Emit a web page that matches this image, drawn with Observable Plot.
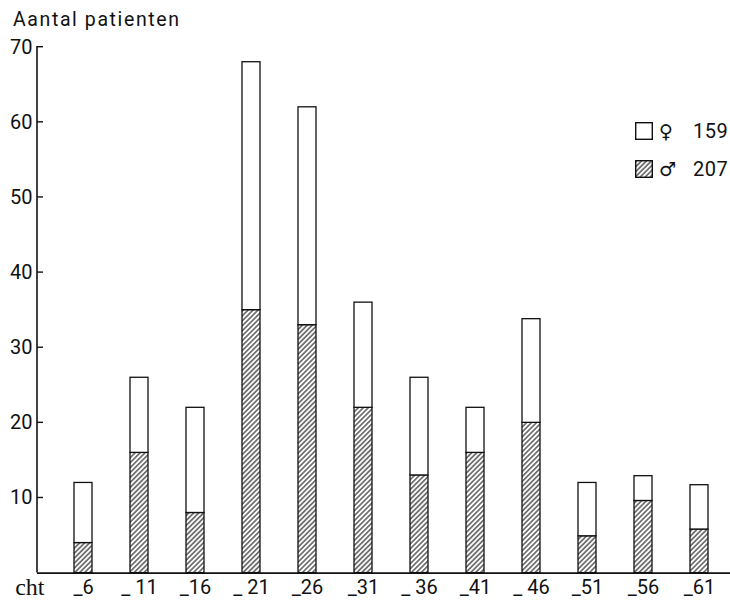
<!DOCTYPE html>
<html><head><meta charset="utf-8">
<script src="https://cdn.jsdelivr.net/npm/d3@7"></script>
<script src="https://cdn.jsdelivr.net/npm/@observablehq/plot@0.6"></script>
<style>
body{margin:0;background:#fff;}
#wrap{position:relative;width:730px;height:600px;font-family:Roboto,"DejaVu Sans",sans-serif;color:#111;overflow:hidden;}
#title{height:36px;position:relative;}
#title span{position:absolute;left:13px;top:10px;font-size:19.5px;line-height:1;letter-spacing:1.6px;white-space:nowrap;}
#legend{position:absolute;left:635px;top:122px;width:95px;height:60px;font-size:20px;}
.box{position:absolute;left:0;width:18px;height:18px;}
.sym{position:absolute;left:24px;height:18px;line-height:18px;font-family:"DejaVu Sans",sans-serif;font-size:19px;}
.cnt{position:absolute;left:58px;height:18px;line-height:18px;letter-spacing:0.5px;}
</style></head>
<body>
<div id="wrap">
  <div id="title"><span id="titletext"></span></div>
  <div id="chart"></div>
  <div id="legend"></div>
</div>
<script>
const titleText = "Aantal patienten";
const categories = ["_6","_ 11","_16","_ 21","_26","_31","_ 36","_41","_ 46","_51","_56","_61"];
const male   = [4, 16, 8, 35, 33, 22, 13, 16, 20, 4.9, 9.6, 5.8];
const female = [8, 10, 14, 33, 29, 14, 13, 6, 13.8, 7.1, 3.3, 5.9];
const yTicks = [10, 20, 30, 40, 50, 60, 70];
const legendSymbols = ["♀", "♂"];
const legendCounts = [159, 207];
const legendHatched = [false, true];
const xCaption = "cht";

document.getElementById("titletext").textContent = titleText;

const rows = categories.flatMap((c, i) => [
  {cat: c, sex: "m", v: male[i]},
  {cat: c, sex: "f", v: female[i]}
]);

const ns = "http://www.w3.org/2000/svg";
// vertical axis line plus inward-pointing ticks
const axisLine = (index, scales, values, dims) => {
  const g = document.createElementNS(ns, "g");
  g.setAttribute("stroke", "#111");
  const ys = v => scales.y(v);
  const line = document.createElementNS(ns, "line");
  line.setAttribute("x1", dims.marginLeft);
  line.setAttribute("x2", dims.marginLeft);
  line.setAttribute("y1", ys(0));
  line.setAttribute("y2", ys(70) - 0.7);
  line.setAttribute("stroke-width", 1.6);
  g.appendChild(line);
  for (const t of yTicks) {
    const tk = document.createElementNS(ns, "line");
    tk.setAttribute("x1", dims.marginLeft);
    tk.setAttribute("x2", dims.marginLeft + 6);
    tk.setAttribute("y1", ys(t));
    tk.setAttribute("y2", ys(t));
    tk.setAttribute("stroke-width", 1.4);
    g.appendChild(tk);
  }
  return g;
};

const svg = Plot.plot({
  width: 730,
  height: 564,
  marginLeft: 37,
  marginRight: 0,
  marginTop: 10.7,
  marginBottom: 27.4,
  style: {fontFamily: "Roboto, 'DejaVu Sans', sans-serif", fontSize: "20px", color: "#111", background: "white", overflow: "visible"},
  x: {domain: categories, paddingInner: 0.67, paddingOuter: 0.5225, align: 0.634, label: null},
  y: {domain: [0, 70], label: null},
  color: {domain: ["m", "f"], range: ["url(#hatch)", "white"]},
  marks: [
    Plot.barY(rows, {x: "cat", y: "v", fill: "sex", stroke: "#111", strokeWidth: 1.3, inset: 0}),
    Plot.ruleY([0], {stroke: "#111", strokeWidth: 1.6}),
    axisLine,
    Plot.axisY({ticks: yTicks, tickSize: 0, tickPadding: 5, label: null, fontSize: 20}),
    Plot.axisX({tickSize: 0, tickPadding: 7, label: null, fontSize: 20}),
    Plot.text([xCaption], {frameAnchor: "bottom-left", textAnchor: "end", dx: 7, dy: 22, fontFamily: "'Liberation Serif', serif", fontSize: 24})
  ]
});

const defs = d3.select(svg).insert("defs", ":first-child");
function addHatch(defsSel, id) {
  const p = defsSel.append("pattern")
    .attr("id", id)
    .attr("patternUnits", "userSpaceOnUse")
    .attr("width", 3.5).attr("height", 3.5)
    .attr("patternTransform", "rotate(45)");
  p.append("rect").attr("width", 3.5).attr("height", 3.5).attr("fill", "white");
  p.append("line").attr("x1", 1.75).attr("x2", 1.75).attr("y1", 0).attr("y2", 3.5)
    .attr("stroke", "#111").attr("stroke-width", 1.05);
}
addHatch(defs, "hatch");
document.getElementById("chart").appendChild(svg);

const legend = document.getElementById("legend");
legendSymbols.forEach((s, i) => {
  const top = i * 38;
  const box = document.createElementNS(ns, "svg");
  box.setAttribute("class", "box");
  box.setAttribute("width", 18); box.setAttribute("height", 18);
  box.style.top = top + "px";
  const bd = d3.select(box).append("defs");
  addHatch(bd, "hatchL" + i);
  d3.select(box).append("rect").attr("x", 0.7).attr("y", 0.7).attr("width", 16.6).attr("height", 16.6)
    .attr("fill", legendHatched[i] ? "url(#hatchL" + i + ")" : "white")
    .attr("stroke", "#111").attr("stroke-width", 1.4);
  legend.appendChild(box);
  const sym = document.createElement("div");
  sym.className = "sym"; sym.style.top = top + "px"; sym.textContent = s;
  legend.appendChild(sym);
  const cnt = document.createElement("div");
  cnt.className = "cnt"; cnt.style.top = top + "px"; cnt.textContent = legendCounts[i];
  legend.appendChild(cnt);
});
</script>
</body></html>
